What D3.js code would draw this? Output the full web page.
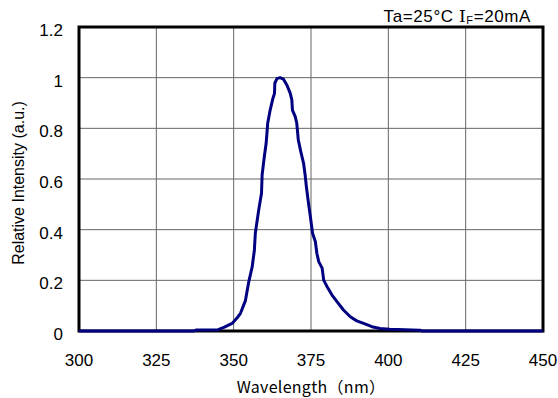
<!DOCTYPE html>
<html>
<head>
<meta charset="utf-8">
<script src="https://cdn.jsdelivr.net/npm/d3@7.9.0/dist/d3.min.js"></script>
<style>
  body { margin: 0; background: #fff; }
  svg text { font-family: "Liberation Sans", Arial, sans-serif; fill: #000; }
</style>
</head>
<body>
<svg width="558" height="398"></svg>
<script>
// spectrum
const wavelength = [300, 337, 338, 345, 347, 349.5, 351, 352.2, 353.8, 354.9, 356, 356.7, 357, 358.1,
  359, 359.2, 359.9, 360.5, 361, 361.8, 362.7, 363.2, 363.3, 364, 365, 366.1, 367.2, 368.3, 368.8,
  369, 369.9, 370.4, 370.9, 371.7, 372.6, 373.1, 373.5, 374.2, 374.8, 375.5, 376.4, 376.9, 377.5,
  378.6, 379.1, 380.2, 381.8, 383.4, 385.5, 387.7, 389.8, 392, 394.7, 397.3, 400.5, 410.2, 411, 450];
const intensity = [0, 0, 0.004, 0.005, 0.015, 0.03, 0.05, 0.07, 0.12, 0.195, 0.254, 0.32, 0.386, 0.478,
  0.544, 0.616, 0.688, 0.741, 0.82, 0.872, 0.919, 0.938, 0.978, 0.996, 1.0, 0.994, 0.971, 0.938, 0.912,
  0.872, 0.846, 0.82, 0.754, 0.708, 0.662, 0.616, 0.57, 0.504, 0.451, 0.386, 0.353, 0.307, 0.274,
  0.248, 0.201, 0.175, 0.142, 0.116, 0.083, 0.056, 0.04, 0.03, 0.017, 0.01, 0.007, 0.003, 0, 0];

const xTicks = [300, 325, 350, 375, 400, 425, 450];
const yTicks = [0, 0.2, 0.4, 0.6, 0.8, 1, 1.2];

const svg = d3.select('svg');
const plotL = 79, plotR = 543, plotT = 27, plotB = 331;

const x = d3.scaleLinear().domain([300, 450]).range([plotL, plotR]);
const y = d3.scaleLinear().domain([0, 1.2]).range([plotB, plotT]);

// grid
svg.append('g')
  .selectAll('line')
  .data(xTicks.slice(1, -1))
  .join('line')
  .attr('x1', d => x(d)).attr('x2', d => x(d))
  .attr('y1', plotT).attr('y2', plotB)
  .attr('stroke', '#666').attr('stroke-width', 1);

svg.append('g')
  .selectAll('line')
  .data(yTicks.slice(1, -1))
  .join('line')
  .attr('x1', plotL).attr('x2', plotR)
  .attr('y1', d => y(d)).attr('y2', d => y(d))
  .attr('stroke', '#666').attr('stroke-width', 1);

// frame
svg.append('rect')
  .attr('x', plotL).attr('y', plotT)
  .attr('width', plotR - plotL).attr('height', plotB - plotT)
  .attr('fill', 'none').attr('stroke', '#000').attr('stroke-width', 3);

// tick labels
svg.append('g')
  .selectAll('text')
  .data(xTicks)
  .join('text')
  .attr('x', d => x(d)).attr('y', 366)
  .attr('text-anchor', 'middle')
  .attr('font-size', 17)
  .text(d => d);

svg.append('g')
  .selectAll('text')
  .data(yTicks)
  .join('text')
  .attr('x', 63).attr('y', d => y(d) + 9)
  .attr('text-anchor', 'end')
  .attr('font-size', 17)
  .text(d => d);

// curve
const pts = wavelength.map((w, i) => [w, intensity[i]]);
const line = d3.line().x(d => x(d[0])).y(d => y(d[1]));
svg.append('path')
  .datum(pts)
  .attr('d', line)
  .attr('fill', 'none')
  .attr('stroke', '#000080')
  .attr('stroke-width', 3)
  .attr('stroke-linejoin', 'round');

// titles
svg.append('text')
  .attr('x', 311).attr('y', 393)
  .attr('text-anchor', 'middle')
  .attr('font-size', 16)
  .style('font-family', '"Noto Sans CJK JP", sans-serif')
  .style('letter-spacing', '0.3px')
  .text('Wavelength（nm）');

svg.append('text')
  .attr('transform', 'translate(24,183) rotate(-90)')
  .attr('text-anchor', 'middle')
  .attr('font-size', 16)
  .text('Relative Intensity (a.u.)');

const cond = svg.append('text')
  .attr('x', 531).attr('y', 22)
  .attr('text-anchor', 'end')
  .attr('font-size', 17)
  .style('letter-spacing', '0.6px');
cond.append('tspan').text('Ta=25°C ');
cond.append('tspan').style('font-family', '"DejaVu Serif", serif').text('I');
cond.append('tspan').attr('font-size', 11).attr('dy', 2).text('F');
cond.append('tspan').attr('dy', -2).text('=20mA');
</script>
</body>
</html>
